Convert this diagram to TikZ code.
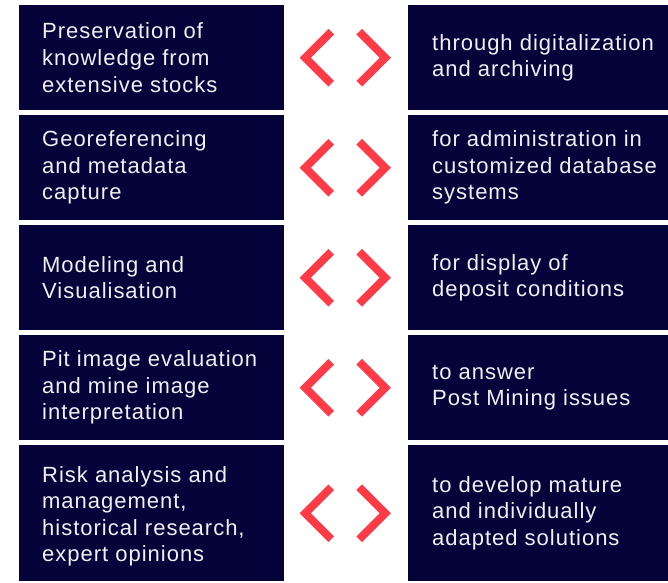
\documentclass[tikz,border=0pt]{standalone}
\usepackage{fontspec}
\setmainfont{Liberation Sans}[LetterSpace=4.5]
\usetikzlibrary{calc}
\definecolor{navy}{RGB}{5,3,58}
\definecolor{chev}{RGB}{255,59,72}
\definecolor{txt}{RGB}{240,240,245}
\begin{document}
\begin{tikzpicture}[x=1pt,y=-1pt,
  box/.style={fill=navy, draw=none, inner sep=0pt, anchor=north west},
  lbox/.style={box, minimum width=265pt},
  rbox/.style={box, minimum width=260pt},
  lbl/.style={anchor=west, align=left, text=txt, inner sep=0pt, font=\fontsize{22}{26.6}\selectfont},
  chevron/.style={draw=chev, line width=8pt, miter limit=10, line join=miter, line cap=butt}]
\useasboundingbox (0,0) rectangle (668,582);

% boxes
\node[lbox, minimum height=105pt] (L1) at (19,5) {};
\node[lbox, minimum height=105pt] (L2) at (19,115) {};
\node[lbox, minimum height=105pt] (L3) at (19,225) {};
\node[lbox, minimum height=105pt] (L4) at (19,335) {};
\node[lbox, minimum height=136pt] (L5) at (19,445) {};
\node[rbox, minimum height=105pt] (R1) at (408,5) {};
\node[rbox, minimum height=105pt] (R2) at (408,115) {};
\node[rbox, minimum height=105pt] (R3) at (408,225) {};
\node[rbox, minimum height=105pt] (R4) at (408,335) {};
\node[rbox, minimum height=136pt] (R5) at (408,445) {};

% texts
\node[lbl] (tL1) at ([xshift=23pt]L1.west) {Preservation of\\knowledge from\\extensive stocks};
\node[lbl] (tL2) at ([xshift=23pt]L2.west) {Georeferencing\\and metadata\\capture};
\node[lbl] (tL3) at ([xshift=23pt]L3.west) {Modeling and\\Visualisation};
\node[lbl] (tL4) at ([xshift=23pt]L4.west) {Pit image evaluation\\and mine image\\interpretation};
\node[lbl] (tL5) at ([xshift=23pt,yshift=-3pt]L5.west) {Risk analysis and\\management,\\historical research,\\expert opinions};
\node[lbl] (tR1) at ([xshift=24pt]R1.west) {through digitalization\\and archiving};
\node[lbl] (tR2) at ([xshift=24pt]R2.west) {for administration in\\customized database\\systems};
\node[lbl] (tR3) at ([xshift=24pt]R3.west) {for display of\\deposit conditions};
\node[lbl] (tR4) at ([xshift=24pt]R4.west) {to answer\\Post Mining issues};
\node[lbl] (tR5) at ([xshift=24pt]R5.west) {to develop mature\\and individually\\adapted solutions};

% chevrons
\foreach \i in {1,...,5}{
  \coordinate (c\i) at ($(L\i.east)!0.5!(R\i.west)$);
  \draw[chevron] ([shift={(-15,-26)}]c\i) -- ([shift={(-41,0)}]c\i) -- ([shift={(-15,26)}]c\i);
  \draw[chevron] ([shift={(13,-26)}]c\i) -- ([shift={(39,0)}]c\i) -- ([shift={(13,26)}]c\i);
}
\end{tikzpicture}
\end{document}
